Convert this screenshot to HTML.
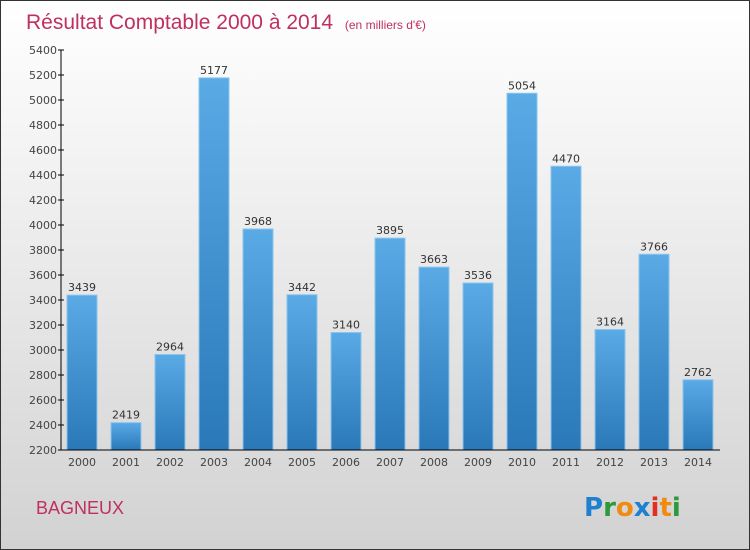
<!DOCTYPE html>
<html><head><meta charset="utf-8"><style>
body{margin:0}
#c{width:750px;height:550px;position:relative;overflow:hidden;box-sizing:border-box;border:1px solid #333;background:linear-gradient(#ffffff,#f2f2f2 30%,#d2d2d2);font-family:"DejaVu Sans","Liberation Sans",sans-serif}
</style></head><body>
<div id="c">
<svg id="s" width="750" height="550" style="position:absolute;left:-1px;top:-1px">
<defs><linearGradient id="g" x1="0" y1="0" x2="0" y2="1"><stop offset="0" stop-color="#5aaae6"/><stop offset="1" stop-color="#2a78b8"/></linearGradient></defs>
<text x="26" y="29" font-size="21" font-family="'Liberation Sans',sans-serif" fill="#c0305e">Résultat Comptable 2000 à 2014 <tspan font-size="12" dx="6">(en milliers d'€)</tspan></text>
<text x="36" y="514" font-size="18" font-family="'Liberation Sans',sans-serif" fill="#c0305e">BAGNEUX</text>
<g font-size="26" font-weight="bold" font-family="'DejaVu Sans',sans-serif">
<text x="584" y="516"><tspan fill="#1f7fd0">P</tspan><tspan fill="#2a9a3a">r</tspan><tspan fill="#f08a10">o</tspan><tspan fill="#1f7fd0">x</tspan><tspan fill="#e03020">i</tspan><tspan fill="#f08a10">t</tspan><tspan fill="#2a9a3a">i</tspan></text></g>
<g id="plot"></g>
</svg>
</div>
<script>
const categories=["2000","2001","2002","2003","2004","2005","2006","2007","2008","2009","2010","2011","2012","2013","2014"];
const values=[3439,2419,2964,5177,3968,3442,3140,3895,3663,3536,5054,4470,3164,3766,2762];
const yTicks=[2200,2400,2600,2800,3000,3200,3400,3600,3800,4000,4200,4400,4600,4800,5000,5200,5400];
const yMin=2200,yMax=5400,yTop=50,yBot=450,x0=61,x1=720;
const y=v=>yBot-(v-yMin)/(yMax-yMin)*(yBot-yTop);
const xc=i=>82+i*44.0;
const NS="http://www.w3.org/2000/svg";
const g=document.getElementById('plot');
function mk(t,a,txt){const e=document.createElementNS(NS,t);for(const k in a)e.setAttribute(k,a[k]);if(txt!=null)e.textContent=txt;g.appendChild(e);return e;}
values.forEach((v,i)=>{
 const b=mk('rect',{x:xc(i)-15,y:y(v),width:30,height:yBot-y(v),fill:'url(#g)',stroke:'#8cc4ee','stroke-width':1});
 
 
 const t=mk('text',{x:xc(i),y:y(v)-4,'text-anchor':'middle','font-size':11,fill:'#333'},String(v));
 
 
 const c=mk('text',{x:xc(i),y:466,'text-anchor':'middle','font-size':11,fill:'#444'},categories[i]);
 
 
});
yTicks.forEach(v=>{
 const l=mk('line',{x1:x0-3,x2:x0+3,y1:y(v),y2:y(v),stroke:'#000'});
 
 
 const t=mk('text',{x:x0-4,y:y(v)+4,'text-anchor':'end','font-size':11,fill:'#444'},String(v));
 
 
});
const ya=mk('line',{x1:x0,x2:x0,y1:yTop,y2:yBot,stroke:'#000'});


const xa=mk('line',{x1:x0,x2:x1,y1:yBot,y2:yBot,stroke:'#000'});


</script>
</body></html>
